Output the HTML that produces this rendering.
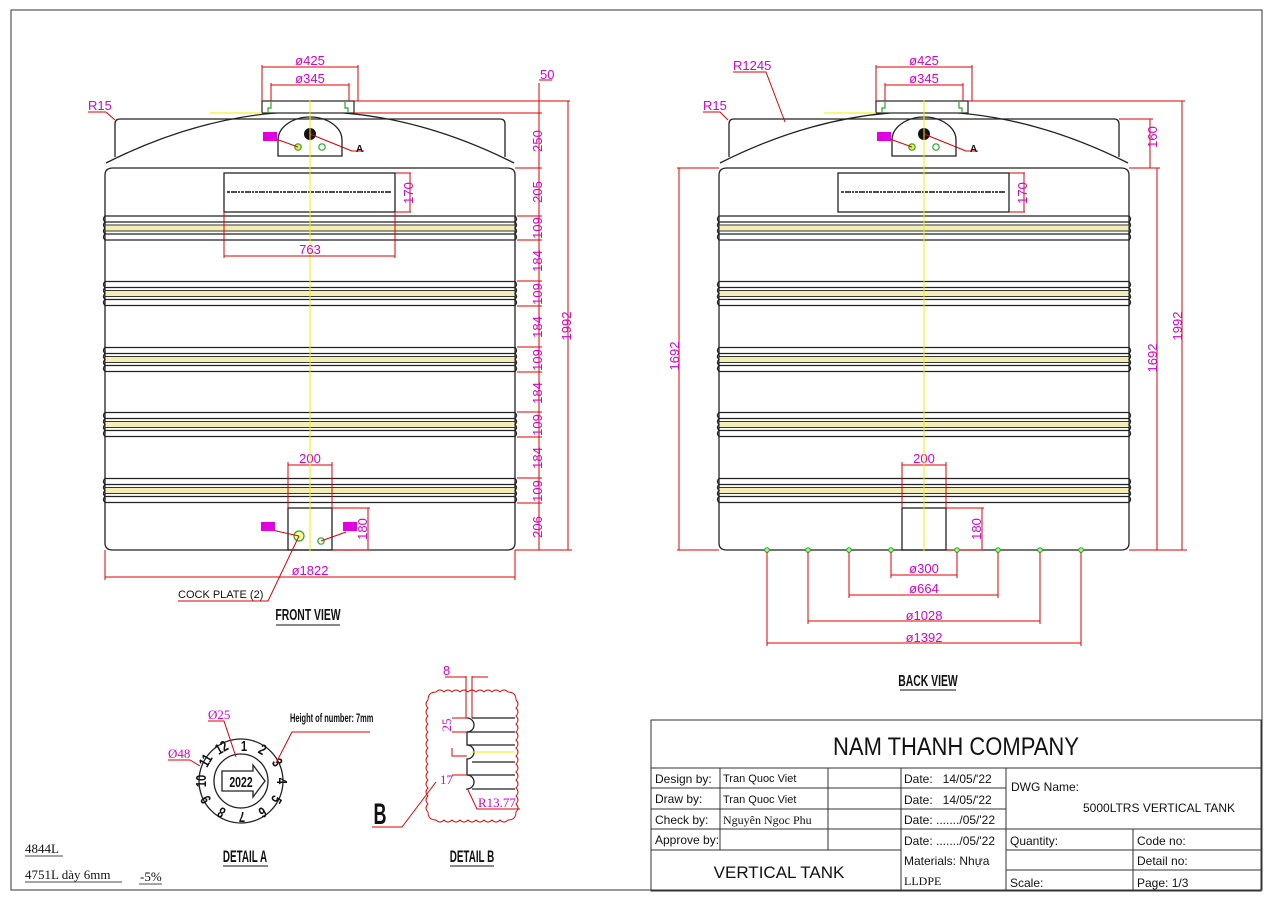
<!DOCTYPE html>
<html><head><meta charset="utf-8"><style>
html,body{margin:0;padding:0;background:#fff;}
svg{display:block;}
.m{fill:#d400d4;font-family:"Liberation Sans",sans-serif;font-size:13px;}
.r{stroke:#e00000;stroke-width:1;fill:none;}
.k{stroke:#222;stroke-width:1.3;fill:none;}
.t{font-family:"Liberation Sans",sans-serif;fill:#111;}
.c{font-family:"Liberation Sans",sans-serif;font-weight:bold;fill:#111;}
</style></head><body>
<svg width="1273" height="903" viewBox="0 0 1273 903" xmlns="http://www.w3.org/2000/svg">
<defs>
<g id="band">
 <line x1="105" y1="-12" x2="515" y2="-12" class="k"/>
 <line x1="105" y1="-6" x2="515" y2="-6" class="k"/>
 <rect x="105" y="-3" width="410" height="6" fill="#f2eeb5" stroke="#222" stroke-width="0.9"/>
 <line x1="105" y1="6" x2="515" y2="6" class="k"/>
 <line x1="105" y1="12" x2="515" y2="12" class="k"/>
 <path d="M105 -12 q-3 3 0 6 q-3 3 0 6 q-3 3 0 6 q-3 3 0 6" class="k"/>
 <path d="M515 -12 q3 3 0 6 q3 3 0 6 q3 3 0 6 q3 3 0 6" class="k"/>
</g>
<g id="tank">
 <path d="M115 157 V124 q0 -5 5 -5 H500 q5 0 5 5 V157" class="k"/>
 <path d="M106 163 Q310 60 514 163" class="k"/>
 <path d="M105 175 q0 -7 8 -7 H507 q8 0 8 7 V543 q0 7 -8 7 H113 q-8 0 -8 -7 Z" class="k"/>
 <rect x="262" y="101" width="92" height="12" fill="#fff" stroke="#222" stroke-width="1.2"/>
 <path d="M268 113 v-5 h3 v-6 M348 113 v-5 h-3 v-6" stroke="#2a2" fill="none" stroke-width="1.2"/>
 <line x1="210" y1="113" x2="262" y2="113" stroke="#ee0" stroke-width="1"/>
 <path d="M278 156 V140 a32 23 0 0 1 64 0 V156 Z" class="k"/>
 <circle cx="310" cy="134" r="6" fill="#111"/>
 <circle cx="298" cy="147" r="3.2" fill="#ee4" stroke="#2a2" stroke-width="1.2"/>
 <circle cx="322" cy="147" r="3.2" fill="#fff" stroke="#2a2" stroke-width="1.2"/>
 <line x1="298" y1="147" x2="276" y2="139" class="r"/>
 <rect x="263" y="132" width="14" height="9" fill="#e000e0"/>
 <line x1="310" y1="134" x2="352" y2="151" class="r"/><line x1="352" y1="151" x2="364" y2="151" class="r"/>
 <text x="356" y="152" class="c" font-size="10">A</text>
 <rect x="224" y="173" width="171" height="39" class="k"/>
 <line x1="227" y1="192" x2="392" y2="192" stroke="#111" stroke-width="1.6" stroke-dasharray="3 1 6 1 2 1"/>
 <path d="M395 173 h16 M395 212 h16" class="r"/><line x1="410" y1="173" x2="410" y2="212" class="r"/>
 <text transform="translate(413,193) rotate(-90)" class="m" text-anchor="middle" font-size="11">170</text>
 <use href="#band" y="228"/>
 <use href="#band" y="293.5"/>
 <use href="#band" y="359.5"/>
 <use href="#band" y="424.5"/>
 <use href="#band" y="490.5"/>
 <rect x="288" y="508" width="44" height="42" class="k"/>
 <path d="M288 508 V462 M332 508 V462" class="r"/>
 <line x1="288" y1="465" x2="332" y2="465" class="r"/>
 <text x="310" y="463" class="m" text-anchor="middle" font-size="11">200</text>
 <path d="M332 508 h38 M332 550 h38" class="r"/><line x1="368" y1="508" x2="368" y2="550" class="r"/>
 <text transform="translate(367,529) rotate(-90)" class="m" text-anchor="middle" font-size="11">180</text>
 <line x1="310" y1="100" x2="310" y2="551" stroke="#ee0" stroke-width="1"/>
</g>
</defs>

<rect x="11" y="10" width="1251" height="880" fill="none" stroke="#333" stroke-width="1"/>

<use href="#tank"/>
<circle cx="299" cy="536" r="5" fill="#ffffa0" stroke="#2a2" stroke-width="1.2"/>
<circle cx="321" cy="541" r="3.2" fill="#fff" stroke="#2a2" stroke-width="1.2"/>
<line x1="299" y1="536" x2="272" y2="530" class="r"/><rect x="261" y="522" width="14" height="9" fill="#e000e0"/>
<line x1="321" y1="541" x2="346" y2="532" class="r"/><rect x="343" y="522" width="14" height="9" fill="#e000e0"/>
<path d="M262 101 V65 M358 101 V65 M271 101 V83 M349 101 V83" class="r"/>
<line x1="262" y1="67" x2="358" y2="67" class="r"/><line x1="271" y1="85" x2="349" y2="85" class="r"/>
<text x="310" y="65" class="m" text-anchor="middle">ø425</text>
<text x="310" y="83" class="m" text-anchor="middle">ø345</text>
<text x="88" y="110" class="m" font-size="11">R15</text>
<line x1="88" y1="112" x2="106" y2="112" class="r"/><line x1="106" y1="112" x2="115" y2="120" class="r"/>
<path d="M354 101 H570 M354 113 H542 M515 168 H542 M517 216 H542 M517 240 H542 M517 281 H542 M517 306 H542 M517 347 H542 M517 372 H542 M517 412 H542 M517 437 H542 M517 478 H542 M517 503 H542 M515 550 H572" class="r"/>
<line x1="539" y1="83" x2="539" y2="550" class="r"/>
<line x1="539" y1="80" x2="552" y2="80" class="r"/>
<text x="540" y="79" class="m" font-size="11">50</text>
<line x1="568" y1="101" x2="568" y2="550" class="r"/>
<g class="m" text-anchor="middle">
<text transform="translate(542,141) rotate(-90)">250</text>
<text transform="translate(542,192) rotate(-90)">205</text>
<text transform="translate(542,228) rotate(-90)">109</text>
<text transform="translate(542,261) rotate(-90)">184</text>
<text transform="translate(542,294) rotate(-90)">109</text>
<text transform="translate(542,327) rotate(-90)">184</text>
<text transform="translate(542,360) rotate(-90)">109</text>
<text transform="translate(542,393) rotate(-90)">184</text>
<text transform="translate(542,425) rotate(-90)">109</text>
<text transform="translate(542,458) rotate(-90)">184</text>
<text transform="translate(542,491) rotate(-90)">109</text>
<text transform="translate(542,527) rotate(-90)">206</text>
<text transform="translate(571,326) rotate(-90)">1992</text>
</g>
<path d="M105 550 V580 M515 550 V580" class="r"/><line x1="105" y1="577" x2="515" y2="577" class="r"/>
<text x="310" y="575" class="m" text-anchor="middle">ø1822</text>
<path d="M224 212 V258 M395 212 V258" class="r"/><line x1="224" y1="256" x2="395" y2="256" class="r"/>
<text x="310" y="254" class="m" text-anchor="middle" font-size="11">763</text>
<text x="178" y="598" class="t" font-size="11">COCK PLATE (2)</text>
<path d="M178 601 H268 L299 536" class="r"/>
<text x="308" y="620" class="c" font-size="16" text-anchor="middle" transform="translate(308,0) scale(0.65,1) translate(-308,0)">FRONT VIEW</text>
<line x1="276" y1="625" x2="340" y2="625" stroke="#111" stroke-width="1"/>

<use href="#tank" x="614"/>
<path d="M876 101 V65 M972 101 V65 M885 101 V83 M963 101 V83" class="r"/>
<line x1="876" y1="67" x2="972" y2="67" class="r"/><line x1="885" y1="85" x2="963" y2="85" class="r"/>
<text x="924" y="65" class="m" text-anchor="middle">ø425</text>
<text x="924" y="83" class="m" text-anchor="middle">ø345</text>
<text x="733" y="70" class="m" font-size="11">R1245</text>
<path d="M733 72 H766 L785 122" class="r"/>
<text x="703" y="110" class="m" font-size="11">R15</text>
<path d="M703 112 H720 L728 120" class="r"/>
<path d="M677 168 H719 M677 550 H719" class="r"/><line x1="679" y1="168" x2="679" y2="550" class="r"/>
<text transform="translate(679,356) rotate(-90)" class="m" text-anchor="middle">1692</text>
<path d="M968 101 H1185 M1119 119 H1153 M1129 168 H1160 M1129 550 H1187" class="r"/>
<line x1="1150" y1="119" x2="1150" y2="168" class="r"/>
<text transform="translate(1157,137) rotate(-90)" class="m" text-anchor="middle">160</text>
<line x1="1157" y1="168" x2="1157" y2="550" class="r"/>
<text transform="translate(1157,358) rotate(-90)" class="m" text-anchor="middle">1692</text>
<line x1="1182" y1="101" x2="1182" y2="550" class="r"/>
<text transform="translate(1182,326) rotate(-90)" class="m" text-anchor="middle">1992</text>
<g fill="#9f9" stroke="#2a2" stroke-width="1">
<circle cx="767" cy="550" r="2.3"/><circle cx="808" cy="550" r="2.3"/><circle cx="849" cy="550" r="2.3"/><circle cx="891" cy="550" r="2.3"/>
<circle cx="957" cy="550" r="2.3"/><circle cx="998" cy="550" r="2.3"/><circle cx="1040" cy="550" r="2.3"/><circle cx="1081" cy="550" r="2.3"/>
</g>
<path d="M891 552 V578 M957 552 V578 M849 552 V598 M998 552 V598 M808 552 V624 M1040 552 V624 M767 552 V646 M1081 552 V646" class="r"/>
<path d="M891 575 H957 M849 595 H998 M808 621 H1040 M767 643 H1081" class="r"/>
<text x="924" y="573" class="m" text-anchor="middle">ø300</text>
<text x="924" y="593" class="m" text-anchor="middle">ø664</text>
<text x="924" y="620" class="m" text-anchor="middle">ø1028</text>
<text x="924" y="642" class="m" text-anchor="middle">ø1392</text>
<text x="928" y="686" class="c" font-size="16" text-anchor="middle" transform="translate(928,0) scale(0.65,1) translate(-928,0)">BACK VIEW</text>
<line x1="900" y1="690" x2="956" y2="690" stroke="#111" stroke-width="1"/>

<circle cx="241" cy="781" r="42" class="k" stroke-width="1.5"/>
<circle cx="241" cy="781" r="27" class="k" stroke-width="1.2"/>
<path d="M222 771 H253 V765 L265 781 L253 797 V791 H222 Z" class="k"/>
<text x="241" y="787" class="c" font-size="15" text-anchor="middle" transform="translate(241,0) scale(0.7,1) translate(-241,0)">2022</text>
<g class="c" font-size="15" text-anchor="middle">
<text transform="translate(244,751) scale(0.75,1)">1</text>
<text transform="translate(260,754) rotate(30) scale(0.75,1)">2</text>
<text transform="translate(273,765) rotate(60) scale(0.75,1)">3</text>
<text transform="translate(277,781) rotate(90) scale(0.75,1)">4</text>
<text transform="translate(272,797) rotate(120) scale(0.75,1)">5</text>
<text transform="translate(260,808) rotate(150) scale(0.75,1)">6</text>
<text transform="translate(242,812) rotate(180) scale(0.75,1)">7</text>
<text transform="translate(224,808) rotate(210) scale(0.75,1)">8</text>
<text transform="translate(210,797) rotate(240) scale(0.75,1)">9</text>
<text transform="translate(206,781) rotate(270) scale(0.75,1)">10</text>
<text transform="translate(210,763) rotate(300) scale(0.75,1)">11</text>
<text transform="translate(224,752) rotate(330) scale(0.75,1)">12</text>
</g>
<text x="208" y="719" class="m" font-size="10" style="font-family:'Liberation Serif',serif">Ø25</text>
<path d="M208 721 H224 L236 757" class="r"/>
<text x="168" y="758" class="m" font-size="10" style="font-family:'Liberation Serif',serif">Ø48</text>
<path d="M168 760 H190 L200 766" class="r"/>
<text x="290" y="722" class="c" font-size="12" transform="translate(290,0) scale(0.62,1) translate(-290,0)">Height of number: 7mm</text>
<path d="M370 732 H292 L276 763" class="r"/>
<text x="245" y="862" class="c" font-size="17" text-anchor="middle" transform="translate(245,0) scale(0.58,1) translate(-245,0)">DETAIL A</text>
<line x1="223" y1="866" x2="268" y2="866" stroke="#111" stroke-width="1"/>

<path d="M428 700 q0 -8 8 -8 q4 -4 8 0 q4 -4 8 0 q4 -4 8 0 q4 -4 8 0 q4 -4 8 0 q4 -4 8 0 q4 -4 8 0 q4 -4 8 0 q4 -4 8 0 q8 0 8 8 q4 4 0 8 q4 4 0 8 q4 4 0 8 q4 4 0 8 q4 4 0 8 q4 4 0 8 q4 4 0 8 q4 4 0 8 q4 4 0 8 q4 4 0 8 q4 4 0 8 q4 4 0 8 q4 4 0 8 q4 4 0 8 q0 8 -8 8 q-4 4 -8 0 q-4 4 -8 0 q-4 4 -8 0 q-4 4 -8 0 q-4 4 -8 0 q-4 4 -8 0 q-4 4 -8 0 q-4 4 -8 0 q-4 4 -8 0 q-8 0 -8 -8 q-4 -4 0 -8 q-4 -4 0 -8 q-4 -4 0 -8 q-4 -4 0 -8 q-4 -4 0 -8 q-4 -4 0 -8 q-4 -4 0 -8 q-4 -4 0 -8 q-4 -4 0 -8 q-4 -4 0 -8 q-4 -4 0 -8 q-4 -4 0 -8 q-4 -4 0 -8 q-4 -4 0 -8 Z" fill="none" stroke="#e00000" stroke-width="0.9"/>
<path d="M466 676 V718 M472 676 V718" class="r"/>
<path d="M445 677 H466 M472 677 H488" class="r"/>
<text x="443" y="675" class="m" font-size="12">8</text>
<g class="k" stroke-width="1">
<path d="M467 718 a7 7 0 0 1 0 14 V745 a7 7 0 0 1 0 14 V775 a7 7 0 0 1 0 14 V790"/>
<line x1="472" y1="718" x2="515" y2="718"/>
<line x1="467" y1="732" x2="515" y2="732"/>
<line x1="467" y1="745" x2="515" y2="745"/>
<line x1="472" y1="762" x2="515" y2="762"/>
<line x1="467" y1="775" x2="515" y2="775"/>
<line x1="472" y1="789" x2="515" y2="789"/>
</g>
<line x1="472" y1="752" x2="515" y2="752" stroke="#ee0"/>
<path d="M452 718 h15 M452 732 h15 M452 748 v8 h15 M452 775 h15" class="r"/>
<text transform="translate(451,725) rotate(-90)" class="m" font-size="10" text-anchor="middle" style="font-family:'Liberation Serif',serif">25</text>
<text x="440" y="784" class="m" font-size="10" style="font-family:'Liberation Serif',serif">17</text>
<text x="478" y="807" class="m" font-size="11" style="font-family:'Liberation Serif',serif">R13.77</text>
<path d="M520 809 H477 L468 790" class="r"/>
<text x="380" y="824" class="c" font-size="30" text-anchor="middle" transform="translate(380,0) scale(0.6,1) translate(-380,0)">B</text>
<path d="M372 827 H402 L436 782" class="r"/>
<text x="472" y="862" class="c" font-size="17" text-anchor="middle" transform="translate(472,0) scale(0.58,1) translate(-472,0)">DETAIL B</text>
<line x1="450" y1="866" x2="494" y2="866" stroke="#111" stroke-width="1"/>

<g font-family="'Liberation Serif',serif" font-size="13" fill="#111">
<text x="25" y="853">4844L</text>
<text x="25" y="879">4751L dày 6mm</text>
<text x="140" y="881">-5%</text>
</g>
<path d="M25 856 H63 M25 882 H122 M139 884 H162" stroke="#111" stroke-width="0.8"/>

<g stroke="#333" stroke-width="1" fill="none">
<rect x="651" y="720" width="610" height="171"/>
<line x1="651" y1="768" x2="1261" y2="768"/>
<line x1="651" y1="788" x2="1006" y2="788"/>
<line x1="651" y1="809" x2="1006" y2="809"/>
<line x1="651" y1="829" x2="1261" y2="829"/>
<line x1="651" y1="850" x2="901" y2="850"/>
<line x1="1006" y1="850" x2="1261" y2="850"/>
<line x1="1006" y1="870" x2="1261" y2="870"/>
<line x1="720" y1="768" x2="720" y2="850"/>
<line x1="828" y1="768" x2="828" y2="850"/>
<line x1="901" y1="768" x2="901" y2="891"/>
<line x1="1006" y1="768" x2="1006" y2="891"/>
<line x1="1133" y1="829" x2="1133" y2="891"/>
</g>
<g class="t" font-size="12">
<text x="956" y="755" font-size="25" text-anchor="middle" transform="translate(956,0) scale(0.88,1) translate(-956,0)">NAM THANH COMPANY</text>
<text x="655" y="783">Design by:</text>
<text x="655" y="803">Draw by:</text>
<text x="655" y="824">Check by:</text>
<text x="655" y="844">Approve by:</text>
<text x="723" y="782" font-size="11">Tran Quoc Viet</text>
<text x="723" y="803" font-size="11">Tran Quoc Viet</text>
<text x="723" y="824" font-size="12" font-family="'Liberation Serif',serif">Nguyên Ngoc Phu</text>
<text x="904" y="783" xml:space="preserve">Date:   14/05/'22</text>
<text x="904" y="804" xml:space="preserve">Date:   14/05/'22</text>
<text x="904" y="824">Date: ......./05/'22</text>
<text x="904" y="845">Date: ......./05/'22</text>
<text x="1011" y="791">DWG Name:</text>
<text x="1083" y="812">5000LTRS VERTICAL TANK</text>
<text x="1010" y="845">Quantity:</text>
<text x="1137" y="845">Code no:</text>
<text x="1137" y="865">Detail no:</text>
<text x="1010" y="887">Scale:</text>
<text x="1137" y="887">Page: 1/3</text>
<text x="904" y="865">Materials: Nhựa</text>
<text x="904" y="885" font-family="'Liberation Serif',serif">LLDPE</text>
<text x="779" y="878" font-size="17" text-anchor="middle">VERTICAL TANK</text>
</g>
</svg>
</body></html>
